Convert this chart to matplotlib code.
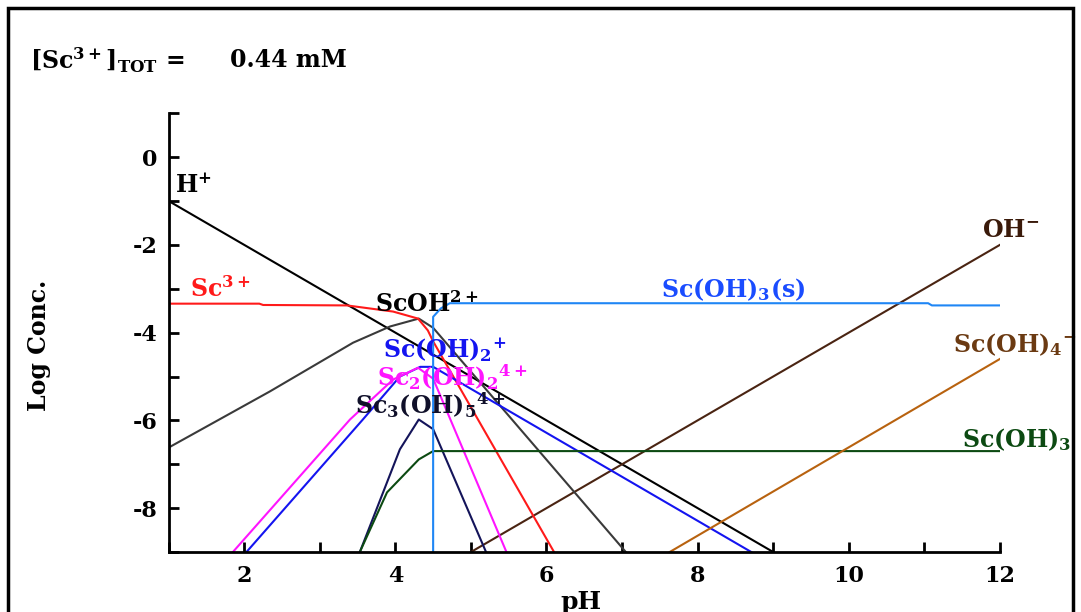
import matplotlib
matplotlib.use("Agg")
import matplotlib.pyplot as plt
from matplotlib.patches import Rectangle
from matplotlib.ticker import MultipleLocator

# Sc(III) speciation, [Sc3+]tot = 0.44 mM
h_ph = [1.0, 9.0]
h_logc = [-1.0, -9.0]

oh_ph = [5.0, 12.0]
oh_logc = [-9.0, -2.0]

sc3_ph = [1.0, 2.2, 2.25, 3.36, 3.97, 4.3, 4.43, 4.5, 6.1]
sc3_logc = [-3.34, -3.34, -3.37, -3.38, -3.52, -3.68, -3.95, -4.2, -9.0]

scoh_ph = [1.0, 2.34, 3.44, 3.93, 4.31, 4.5, 7.05]
scoh_logc = [-6.62, -5.34, -4.23, -3.86, -3.68, -3.89, -9.0]

scoh2_ph = [2.03, 3.57, 4.06, 4.33, 4.5, 8.71]
scoh2_logc = [-9.0, -5.98, -5.0, -4.78, -4.78, -9.0]

sc2oh2_ph = [1.85, 3.4, 3.97, 4.3, 4.5, 5.47]
sc2oh2_logc = [-9.0, -5.98, -5.07, -4.8, -5.05, -9.0]

sc3oh5_ph = [3.53, 4.06, 4.31, 4.5, 5.2]
sc3oh5_logc = [-9.0, -6.66, -5.98, -6.2, -9.0]

scoh3aq_ph = [3.53, 3.89, 4.31, 4.5, 12.0]
scoh3aq_logc = [-9.0, -7.64, -6.89, -6.7, -6.7]

scoh4_ph = [7.63, 12.0]
scoh4_logc = [-9.0, -4.6]

solid_ph = [4.5, 4.5, 4.6, 4.72, 11.05, 11.1, 12.0]
solid_logc = [-9.0, -3.64, -3.45, -3.33, -3.33, -3.38, -3.38]

plt.rcParams['font.family'] = ['DejaVu Serif']
plt.rcParams['font.weight'] = 'bold'
plt.rcParams['axes.unicode_minus'] = False
plt.rcParams['mathtext.fontset'] = 'custom'
for k in ['rm', 'it', 'bf', 'sf']:
    plt.rcParams['mathtext.' + k] = 'DejaVu Serif:bold'

fig = plt.figure(figsize=(10.81, 6.12), dpi=100)
ax = fig.add_axes([0.156, 0.098, 0.769, 0.717])

lw = 1.5
ax.plot(h_ph, h_logc, color='black', lw=lw)
ax.plot(oh_ph, oh_logc, color='#4a2412', lw=lw)
ax.plot(scoh_ph, scoh_logc, color='#3a3a3a', lw=lw)
ax.plot(sc3_ph, sc3_logc, color='#ff1a1a', lw=lw)
ax.plot(scoh2_ph, scoh2_logc, color='#1414f0', lw=lw)
ax.plot(sc2oh2_ph, sc2oh2_logc, color='#ff14ff', lw=lw)
ax.plot(sc3oh5_ph, sc3oh5_logc, color='#14145a', lw=lw)
ax.plot(scoh3aq_ph, scoh3aq_logc, color='#0c4a12', lw=lw)
ax.plot(scoh4_ph, scoh4_logc, color='#b8620f', lw=lw)
ax.plot(solid_ph, solid_logc, color='#1f86f5', lw=lw)

ax.set_xlim(1, 12)
ax.set_ylim(-9, 1)
for s in ['top', 'right']:
    ax.spines[s].set_visible(False)
for s in ['left', 'bottom']:
    ax.spines[s].set_linewidth(2)

ax.xaxis.set_minor_locator(MultipleLocator(1))
ax.yaxis.set_minor_locator(MultipleLocator(1))
ax.tick_params(which='both', direction='in', length=7, width=2, labelsize=16)
ax.tick_params(axis='x', pad=9)
ax.tick_params(axis='y', pad=8)
ax.set_xticks([2, 4, 6, 8, 10, 12])
ax.set_yticks([0, -2, -4, -6, -8])

lab = dict(fontsize=17, fontweight='bold', va='center', ha='left')
ax.text(1.08, -0.66, 'H$^{+}$', color='black', **lab)
ax.text(1.28, -3.02, 'Sc$^{3+}$', color='#ff1a1a', **lab)
ax.text(3.73, -3.34, 'ScOH$^{2+}$', color='black', **lab)
ax.text(3.84, -4.40, 'Sc(OH)$_{2}$$^{+}$', color='#1414f0', **lab)
ax.text(3.76, -5.02, 'Sc$_{2}$(OH)$_{2}$$^{4+}$', color='#ff14ff', **lab)
ax.text(3.47, -5.66, 'Sc$_{3}$(OH)$_{5}$$^{4+}$', color='#10102a', **lab)
ax.text(7.52, -3.02, 'Sc(OH)$_{3}$(s)', color='#1a4cff', **lab)
ax.text(11.76, -1.66, 'OH$^{-}$', color='#3a1a0a', clip_on=False, **lab)
ax.text(11.38, -4.27, 'Sc(OH)$_{4}$$^{-}$', color='#6b3a12', clip_on=False, **lab)
ax.text(11.5, -6.43, 'Sc(OH)$_{3}$', color='#0c4a12', clip_on=False, **lab)

fig.text(0.036, 0.435, 'Log Conc.', rotation=90, fontsize=17, fontweight='bold',
         ha='center', va='center')
fig.text(0.537, 0.036, 'pH', fontsize=18, fontweight='bold', ha='center', va='top')

fig.text(0.028, 0.902, '[Sc$^{3+}$]$_{\\mathrm{TOT}}$ =', fontsize=17, fontweight='bold',
         va='center', ha='left')
fig.text(0.213, 0.902, '0.44 mM', fontsize=17, fontweight='bold', va='center', ha='left')

# frame round the figure (bottom edge cut off in the original)
fig.patches.append(Rectangle((0.0074, -0.1), 0.985, 1.087, transform=fig.transFigure,
                             fill=False, edgecolor='black', lw=2.5))

fig.savefig('out.png', dpi=100, facecolor='white')
